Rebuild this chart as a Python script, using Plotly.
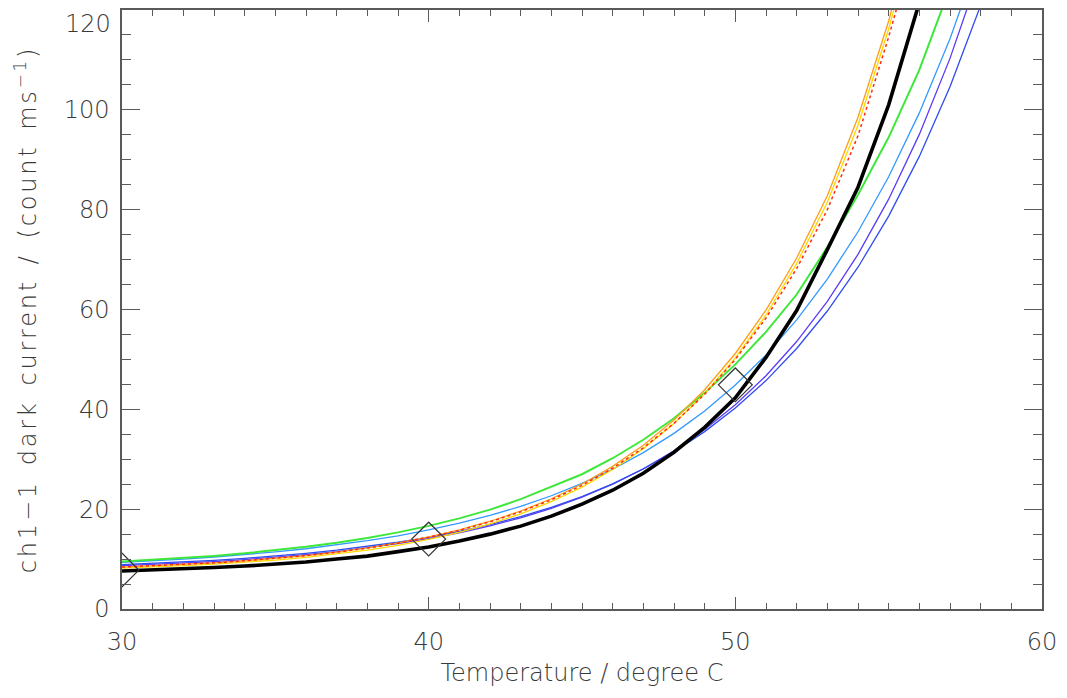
import plotly.graph_objects as go

# Temperature grid (degree C)
temperature = list(range(30, 60))

# Dark-current curves (count ms^-1) for each model
orange_curve = [8.39, 8.63, 8.91, 9.25, 9.65, 10.13, 10.71, 11.41, 12.24, 13.24,
                14.44, 15.87, 17.58, 19.63, 22.09, 25.04, 28.57, 32.79, 37.86, 43.92,
                51.19, 59.89, 70.31, 82.79, 98.5, 117.8, 141.0]
yellow_curve = [8.2, 8.4, 8.67, 8.98, 9.35, 9.8, 10.35, 11.0, 11.78, 12.75,
                13.94, 15.34, 17.03, 19.06, 21.5, 24.43, 27.94, 32.13, 37.16, 43.15,
                50.3, 58.9, 69.2, 81.5, 96.9, 116.2, 139.0]
red_curve = [8.4, 8.64, 8.92, 9.25, 9.65, 10.12, 10.69, 11.38, 12.2, 13.19,
             14.37, 15.78, 17.46, 19.47, 21.88, 24.76, 28.2, 32.3, 37.2, 43.05,
             50.0, 58.3, 68.2, 80.0, 94.8, 114.6, 136.5]
green_curve = [9.5, 9.83, 10.2, 10.64, 11.15, 11.75, 12.45, 13.27, 14.23, 15.35,
               16.65, 18.15, 19.9, 22.0, 24.5, 27.0, 30.2, 33.9, 38.2, 43.3,
               49.0, 55.5, 63.0, 72.5, 83.0, 94.5, 108.0, 124.5, 143.6]
lightblue_curve = [9.36, 9.66, 10.01, 10.42, 10.89, 11.44, 12.07, 12.82, 13.68, 14.67,
                   15.84, 17.19, 18.75, 20.57, 22.69, 25.15, 28.0, 31.32, 35.18, 39.66,
                   44.86, 50.91, 57.93, 66.09, 75.57, 86.59, 99.39, 114.26, 131.54]
violet_curve = [8.67, 8.91, 9.19, 9.51, 9.9, 10.35, 10.88, 11.5, 12.23, 13.08,
                14.09, 15.26, 16.64, 18.27, 20.17, 22.4, 25.02, 28.1, 31.71, 35.94,
                40.91, 46.74, 53.58, 61.61, 71.04, 82.1, 95.08, 110.31, 128.18]
blue_curve = [8.88, 9.13, 9.42, 9.76, 10.15, 10.61, 11.15, 11.78, 12.51, 13.37,
              14.37, 15.54, 16.91, 18.5, 20.36, 22.54, 25.07, 28.04, 31.5, 35.54,
              40.25, 45.76, 52.19, 59.7, 68.47, 78.71, 90.67, 104.63, 120.93, 141.0]
fit_curve = [7.6, 7.8, 8.0, 8.3, 8.6, 9.0, 9.4, 10.0, 10.6, 11.5,
             12.4, 13.6, 15.0, 16.6, 18.6, 21.0, 23.8, 27.2, 31.4, 36.4,
             42.3, 50.4, 59.8, 72.0, 84.5, 101.0, 121.5, 145.0]

# Measured points
meas_temp = [30, 40, 50]
meas_dark = [7.8, 14.0, 44.9]

# Axis ticks
x_ticks = [30, 40, 50, 60]
y_ticks = [0, 20, 40, 60, 80, 100, 120]
Y_MAX = y_ticks[-1]

FONT = "DejaVu Sans ExtraLight, DejaVu Sans"
TEXT = "#3a3a3a"
FRAME = "#5a5a5a"

fig = go.Figure()


def curve(values, color, width, dash="solid"):
    fig.add_trace(go.Scatter(
        x=temperature[:len(values)], y=values, mode="lines",
        line=dict(color=color, width=width, dash=dash),
        showlegend=False, hoverinfo="skip"))


curve(violet_curve, "#5a3cf5", 1.3)
curve(blue_curve, "#2f4cf0", 1.3)
curve(lightblue_curve, "#3399ff", 1.3)
curve(green_curve, "#3ee83a", 2.0)
curve(yellow_curve, "#ffd800", 1.3)
curve(orange_curve, "#ff9d1a", 1.3)
curve(red_curve, "#ff2a10", 1.5, "dot")
curve(fit_curve, "#000000", 3.6)

fig.add_trace(go.Scatter(
    x=meas_temp, y=meas_dark, mode="markers",
    marker=dict(symbol="diamond-open", size=26, color="#333333",
                line=dict(color="#333333", width=1.2)),
    showlegend=False, hoverinfo="skip"))

tick_font = dict(family=FONT, size=24, color=TEXT, weight=200)
axis_common = dict(
    showgrid=False, zeroline=False, showline=True, linecolor=FRAME,
    linewidth=1.5, mirror="ticks", ticks="inside", tickcolor=FRAME,
    tickwidth=1.3, tickfont=tick_font, tickmode="array",
    automargin=False,
)

fig.update_xaxes(
    range=[30, 60], tickvals=x_ticks, ticktext=[str(v) for v in x_ticks],
    ticklen=12, ticklabelstandoff=10, ticklabeloverflow="allow",
    minor=dict(dtick=1, ticklen=6, ticks="inside", tickcolor=FRAME, tickwidth=1.3),
    title=dict(text="Temperature / degree C", font=tick_font, standoff=10),
    **axis_common)

# The top label sits just inside the page, so it is drawn separately below
y_text = [str(v) if v != Y_MAX else "" for v in y_ticks]
fig.update_yaxes(
    range=[0, Y_MAX], tickvals=y_ticks, ticktext=y_text,
    ticklen=18, ticklabelstandoff=6, ticklabeloverflow="allow",
    minor=dict(dtick=5, ticklen=9, ticks="inside", tickcolor=FRAME, tickwidth=1.3),
    title=dict(text="ch1\u22121\u2002dark\u2002current\u2002/\u2002(count\u2002ms<sup>\u22121</sup>)",
               font=tick_font, standoff=20),
    **axis_common)

fig.add_annotation(
    x=0, xref="paper", y=Y_MAX, yref="y", text=str(Y_MAX),
    xanchor="right", yanchor="top", xshift=-9, yshift=2,
    showarrow=False, font=tick_font)

fig.update_layout(
    width=1067, height=698,
    margin=dict(l=122, r=25, t=10, b=89),
    paper_bgcolor="white", plot_bgcolor="white",
)

# Wider letter spacing for the vertical axis title
spacing_js = """
function widenYTitle(){
  var t = document.querySelector('.ytitle');
  if (t) { t.style.letterSpacing = '2.8px'; }
}
widenYTitle();
setTimeout(widenYTitle, 0);
var gd = document.getElementById('{plot_id}');
if (gd && gd.on) { gd.on('plotly_afterplot', widenYTitle); }
"""

fig.write_html("out.html", post_script=spacing_js)
